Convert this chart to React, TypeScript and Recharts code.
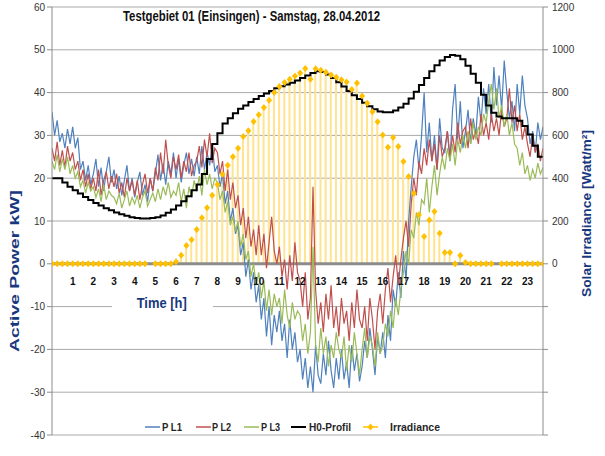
import React from 'react';
import {
  ComposedChart,
  Line,
  Bar,
  XAxis,
  YAxis,
  CartesianGrid,
  ReferenceLine,
  ReferenceDot,
  Legend,
} from 'recharts';

const CHART_TITLE = 'Testgebiet 01 (Einsingen) - Samstag, 28.04.2012';
const LEFT_AXIS_TITLE = 'Active Power  kW]';
const RIGHT_AXIS_TITLE = 'Solar Irradiance  [Watt/m²]';
const X_AXIS_TITLE = 'Time [h]';

const SERIES_NAMES = ['P L1', 'P L2', 'P L3', 'H0-Profil', 'Irradiance'];
const HOUR_LABELS = [1, 2, 3, 4, 5, 6, 7, 8, 9, 10, 11, 12, 13, 14, 15, 16, 17, 18, 19, 20, 21, 22, 23];
const POWER_TICKS = [-40, -30, -20, -10, 0, 10, 20, 30, 40, 50, 60];
const IRRADIANCE_TICKS = [-800, -600, -400, -200, 0, 200, 400, 600, 800, 1000, 1200];

// Active power per phase, 7.5-minute steps from 00:00 to 23:45 (kW)
const P_L1 = [
  35.5, 30, 33.5, 28.5, 30.5, 27, 31.5, 28,
  32, 27, 29.5, 22, 24, 19.5, 23, 18.5,
  21, 24.5, 18, 22.5, 17, 21.5, 25, 19,
  22, 17.5, 20.5, 16, 19.5, 23, 17, 20,
  15.5, 19, 21.5, 16, 18.5, 14.5, 20, 17,
  21, 25.5, 19.5, 23.5, 18.5, 24, 21, 26,
  20, 24.5, 19, 23, 26, 21, 24.5, 20.5,
  25, 21, 27.5, 22, 26, 23, 28, 21.5,
  23, 18, 21, 14, 17, 10, 13, 7,
  9, 2, 5, -3, 1, -6, -2, -9,
  -5, -13, -8, -17, -10, -19, -12, -16,
  -11, -18, -14, -22, -13, -20, -16, -23,
  -20, -27, -22, -29, -24, -30, -19, -26,
  -28, -21, -26, -18, -25, -29, -22, -27,
  -20, -27, -23, -29, -19, -25, -21, -27.5,
  -24, -18, -22, -15, -20, -26, -17, -21,
  -16, -22, -12, -18, -6, -10, -2, -8,
  3, -4, 10, 18, 25, 29, 22, 30,
  40, 26, 33, 24, 30, 22, 34, 27,
  26, 31, 24, 36, 42, 29, 38, 27,
  31, 36, 28, 34, 30, 39, 33, 41,
  35, 42, 33, 46, 37, 44, 36, 47.5,
  40, 34, 38, 31, 42, 35, 44, 37,
  34, 28, 31, 26, 33, 29, 32,
];

const P_L2 = [
  27, 24, 28.5, 23, 26.5, 22.5, 27.5, 24,
  26, 22, 24, 19.5, 22, 18, 21, 17.5,
  20, 17, 22, 16, 19.5, 21.5, 17.5, 20.5,
  18, 21, 16.5, 19, 15.5, 20, 17, 19.5,
  16, 19.5, 15, 18.5, 21, 16.5, 20, 17,
  22.5, 19.5, 26, 21, 29, 23, 20, 25,
  22, 25.5, 20, 24, 21.5, 26, 20.5, 23,
  24, 27.5, 22.5, 29, 25, 30.5, 23.5, 27,
  26, 21, 24, 17, 22, 15, 19, 13,
  16, 9, 13, 6, 11, 4, 8, 2,
  9, 2, 7, -1, 5, 11, 3, 0,
  4, -3, 1, -6, 2, -4, 5, -2,
  -4, -10, -2, -13, -8, 18, -6, -14,
  -9, -16, -7, -13, -5, -15, -10, -17,
  -8, -14, -11, -18, -9, -15, -6, -13,
  -15, -10, -18, -8, -13, -20, -11, -7,
  -14, -6, -1, -9, -3, 2, -5, 1,
  6, 10, 4, 14, 20, 16, 24, 21,
  27, 23, 29, 24, 28, 22, 30, 25,
  27, 31, 25, 30, 26, 33, 28, 31,
  32, 27, 34, 29, 31, 28, 35, 30,
  33, 29, 35, 31, 34, 30, 36, 32,
  34, 41, 33, 37, 31, 35, 29, 32,
  28, 25, 30, 26, 28, 24, 27,
];

const P_L3 = [
  24, 22, 25.5, 21.5, 24.5, 22, 25, 21,
  23, 20, 21.5, 18, 19.5, 16.5, 19, 17,
  18, 15.5, 17.5, 14.5, 18.5, 15, 17, 16,
  15.5, 14, 16.5, 13, 15, 17, 13.5, 15.5,
  14, 16, 13, 15.5, 17, 13.5, 15, 16.5,
  14.5, 17.5, 15, 18, 16, 19, 15.5, 17,
  16, 19, 14.5, 17.5, 13, 18, 15.5, 19.5,
  17, 20.5, 16, 22, 18.5, 21, 17.5, 20,
  19, 15, 17, 12, 14.5, 9, 11, 7.5,
  10, 4, 7, 1, 3, -3, 0, -5,
  -2, -8, -4, -11, -6, -12, -7, -10,
  -8, -14, -6, -12, -15, -9, -13, -11,
  -12, -18, -14, -21, -16, 4, -19, -23,
  -15, -21, -17, -24, -19, -22, -16, -20,
  -22, -17, -25, -19, -23, -16, -21, -26,
  -20, -15, -22, -17, -19, -24, -16, -21,
  -19, -14, -17, -11, -15, -8, -12, -6,
  -2, 3, 0, 8, 6, 12, 9, 15,
  14, 20, 12, 18, 23, 16, 21, 25,
  22, 27, 24, 28, 23, 29, 26, 30,
  27, 31, 28, 33, 29, 32, 30, 35,
  33, 38, 42, 36, 41, 34, 37, 32,
  35, 30, 33, 28, 27, 23, 26, 21,
  23, 19.5, 22, 20, 23.5, 21, 22.5,
];

// Standard load profile H0, 15-minute steps (kW)
const H0_PROFIL = [
  20, 20, 19, 18, 17.2, 16.4, 15.6, 14.9,
  14.2, 13.6, 13, 12.5, 12, 11.6, 11.2, 10.9,
  10.7, 10.6, 10.6, 10.7, 10.9, 11.3, 11.9, 12.7,
  13.6, 14.6, 15.8, 17.2, 18.5, 21, 24.5, 28,
  30.5, 32.8, 34, 35.2, 36.2, 37, 37.8, 38.5,
  39.2, 39.8, 40.4, 41, 41.5, 41.9, 42.3, 42.8,
  43.4, 44, 44.6, 45, 44.8, 44.2, 43.4, 42.4,
  41.4, 40.4, 39.4, 38.5, 37.6, 36.8, 36.1, 35.6,
  35.4, 35.4, 35.8, 36.5, 37.4, 38.6, 40.2, 41.8,
  43.4, 45, 46.4, 47.5, 48.3, 48.8, 48.6, 47.8,
  46.3, 44.4, 42.3, 39.5, 37, 35.3, 34.4, 34,
  34, 34, 33.4, 32.2, 30.2, 27.6, 25, 25,
];

// Solar irradiance, 15-minute steps (W/m²)
const IRRADIANCE = [
  0, 0, 0, 0, 0, 0, 0, 0,
  0, 0, 0, 0, 0, 0, 0, 0,
  0, 0, 0, null, 0, 0, 0, 0,
  10, 40, 85, 112, 160, 215, 262, 320,
  370, 418, 460, 500, 540, 595, 622, 665,
  697, 730, 764, 800, 828, 847, 862, 878,
  892, 913, 862, 912, 905, 895, 882, 872,
  860, 850, 815, 845, 784, 750, 711, 664,
  602, 545, 590, 548, 478, 408, 330, 229,
  128, 205, 244, 143, 53, 53, 0, 39,
  6, 0, 0, 0, 0, 0, null, 0,
  0, 0, 0, 0, 0, 0, 0, 0,
];

const SERIES_COLORS: Record<string, string> = {
  'P L1': '#4F81BD',
  'P L2': '#C0504D',
  'P L3': '#9BBB59',
  'H0-Profil': '#000000',
  Irradiance: '#FFC000',
};

const data = P_L1.map((v, i) => {
  const even = i % 2 === 0;
  return {
    t: i / 8,
    l1: v,
    l2: P_L2[i],
    l3: P_L3[i],
    h0: even ? H0_PROFIL[i / 2] : null,
    irr: even ? IRRADIANCE[i / 2] : null,
  };
});

const FONT = "'Liberation Sans', Arial, sans-serif";
const NAVY = '#17377E';

const Diamond = (props: any) => {
  const { cx, cy, payload, index } = props;
  if (!payload || payload.irr == null || cx == null || cy == null || isNaN(cy)) {
    return <g key={`d-${index}`} />;
  }
  return (
    <polygon
      key={`d-${index}`}
      points={`${cx},${cy - 3.5} ${cx + 3},${cy} ${cx},${cy + 3.5} ${cx - 3},${cy}`}
      fill="#FFC000"
    />
  );
};

const LEGEND_ICON_X = [145, 196, 244, 291, 363];
const LEGEND_TEXT_X = [162, 212, 261, 309, 390];
const LEGEND_TEXT_LEN = [20, 19, 19, 42, 50];

const renderLegend = () => {
  return (
    <svg width={605} height={22} style={{ display: 'block' }}>
      {SERIES_NAMES.map((name, k) => {
        const color = SERIES_COLORS[name];
        const ix = LEGEND_ICON_X[k];
        const tx = LEGEND_TEXT_X[k];
        const isIrr = name === 'Irradiance';
        return (
          <g key={name}>
            <line x1={ix} x2={ix + 15} y1={11} y2={11} stroke={color} strokeWidth={name === 'H0-Profil' ? 2 : 1.5} />
            {isIrr && (
              <polygon points={`${ix + 7.5},${7.5} ${ix + 10.5},${11} ${ix + 7.5},${14.5} ${ix + 4.5},${11}`} fill={color} />
            )}
            <text
              x={tx}
              y={15}
              fontFamily={FONT}
              fontSize={11.5}
              fontWeight={700}
              fill="#262626"
              textLength={LEGEND_TEXT_LEN[k]}
              lengthAdjust="spacingAndGlyphs"
            >
              {name}
            </text>
          </g>
        );
      })}
    </svg>
  );
};

export default function App() {
  return (
    <div style={{ position: 'absolute', left: 0, top: 0, width: 605, height: 456, background: '#fff' }}>
      <ComposedChart
        width={605}
        height={456}
        data={data}
        margin={{ top: 7, right: 0, bottom: 21, left: 0 }}
      >
        <CartesianGrid yAxisId="left" horizontal vertical={false} stroke="#ABABAB" />
        <XAxis dataKey="t" type="number" domain={[0, 23.75]} hide allowDataOverflow />
        <YAxis
          yAxisId="left"
          domain={[-40, 60]}
          ticks={POWER_TICKS}
          interval={0}
          width={52}
          tickSize={5}
          axisLine={{ stroke: '#8C8C8C' }}
          tickLine={{ stroke: '#8C8C8C' }}
          tick={{ fontSize: 10, fill: '#333', fontFamily: FONT }}
          allowDataOverflow
        />
        <YAxis
          yAxisId="right"
          orientation="right"
          domain={[-800, 1200]}
          ticks={IRRADIANCE_TICKS}
          interval={0}
          width={62}
          tickSize={5}
          tickMargin={4}
          tickFormatter={(v: number) => (v >= 0 ? String(v) : '')}
          axisLine={{ stroke: '#8C8C8C' }}
          tickLine={{ stroke: '#8C8C8C' }}
          tick={{ fontSize: 10, fill: '#333', fontFamily: FONT, textAnchor: 'start' }}
          allowDataOverflow
        />
        <Bar
          yAxisId="right"
          dataKey="irr"
          barSize={2}
          fill="#FFE38F"
          legendType="none"
          isAnimationActive={false}
        />
        <ReferenceLine yAxisId="left" y={0} stroke="#8C8C8C" strokeWidth={3} />
        <Line yAxisId="left" dataKey="l1" name="P L1" stroke="#4F81BD" strokeWidth={1.2} dot={false} isAnimationActive={false} />
        <Line yAxisId="left" dataKey="l2" name="P L2" stroke="#C0504D" strokeWidth={1.2} dot={false} isAnimationActive={false} />
        <Line yAxisId="left" dataKey="l3" name="P L3" stroke="#9BBB59" strokeWidth={1.2} dot={false} isAnimationActive={false} />
        <Line
          yAxisId="left"
          dataKey="h0"
          name="H0-Profil"
          type="stepAfter"
          stroke="#000"
          strokeWidth={2}
          dot={false}
          connectNulls
          isAnimationActive={false}
        />
        <Line
          yAxisId="right"
          dataKey="irr"
          name="Irradiance"
          stroke="none"
          dot={Diamond}
          activeDot={false}
          isAnimationActive={false}
        />
        {HOUR_LABELS.map((h) => (
          <ReferenceDot
            key={`h-${h}`}
            yAxisId="left"
            x={h}
            y={0}
            r={0}
            fill="none"
            stroke="none"
            label={{
              value: String(h),
              position: 'bottom',
              offset: 14,
              fill: '#111',
              fontSize: 10,
              fontWeight: 700,
              fontFamily: FONT,
            }}
          />
        ))}
        <Legend
          content={renderLegend}
          layout="horizontal"
          verticalAlign="middle"
          align="center"
          wrapperStyle={{ top: 416, left: 0, width: 605, height: 22 }}
        />
      </ComposedChart>
      <svg
        width={605}
        height={456}
        style={{ position: 'absolute', left: 0, top: 0, pointerEvents: 'none' }}
      >
        <text
          x={251.5}
          y={21}
          textAnchor="middle"
          fontFamily={FONT}
          fontSize={15}
          fontWeight={700}
          fill="#111"
          textLength={257}
          lengthAdjust="spacingAndGlyphs"
        >
          {CHART_TITLE}
        </text>
        <text
          x={14}
          y={271}
          transform="rotate(-90, 14, 271)"
          textAnchor="middle"
          dominantBaseline="central"
          fontFamily={FONT}
          fontSize={13}
          fontWeight={700}
          fill={NAVY}
          textLength={162}
          lengthAdjust="spacingAndGlyphs"
        >
          {LEFT_AXIS_TITLE}
        </text>
        <text
          x={586.5}
          y={213.5}
          transform="rotate(-90, 586.5, 213.5)"
          textAnchor="middle"
          dominantBaseline="central"
          fontFamily={FONT}
          fontSize={13}
          fontWeight={700}
          fill={NAVY}
          textLength={167}
          lengthAdjust="spacingAndGlyphs"
        >
          {RIGHT_AXIS_TITLE}
        </text>
        <rect x={112} y={294} width={101} height={18} fill="#fff" />
        <text
          x={161.7}
          y={308}
          textAnchor="middle"
          fontFamily={FONT}
          fontSize={15}
          fontWeight={700}
          fill={NAVY}
          textLength={50}
          lengthAdjust="spacingAndGlyphs"
        >
          {X_AXIS_TITLE}
        </text>
      </svg>
    </div>
  );
}
